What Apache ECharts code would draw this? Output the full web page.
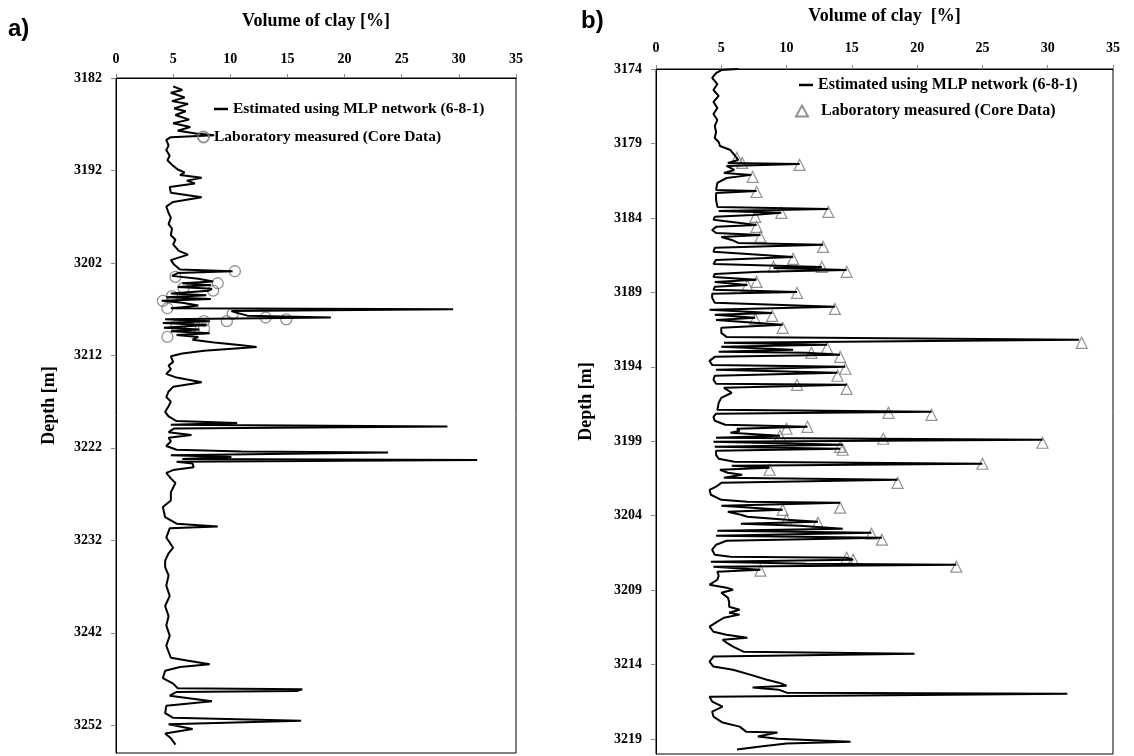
<!DOCTYPE html>
<html>
<head>
<meta charset="utf-8">
<script src="https://cdn.jsdelivr.net/npm/echarts@6/dist/echarts.min.js"></script>
<style>html,body{margin:0;background:#fff}#main{width:1134px;height:756px}</style>
</head>
<body>
<div id="main"></div>
<script>
// ---- panel a) : depth [m] and clay volume [%] along the log ----
var depthA = [
  3182.9,3183.3,3183.6,3184.1,3184.5,3184.8,3185.3,3185.6,3186.0,3186.5,
  3186.9,3187.3,3187.7,3188.0,3188.2,3188.4,3188.7,3189.3,3189.8,3190.4,
  3190.9,3191.5,3191.9,3192.2,3192.5,3192.8,3193.1,3193.4,3193.8,3194.4,
  3194.9,3195.4,3195.9,3196.6,3197.1,3197.8,3198.3,3199.0,3199.5,3200.0,
  3200.7,3201.1,3201.7,3202.2,3202.7,3202.9,3203.1,3203.4,3203.7,3204.0,
  3204.2,3204.4,3204.6,3204.8,3205.0,3205.3,3205.5,3205.7,3205.9,3206.1,
  3206.3,3206.6,3206.8,3206.9,3207.0,3207.2,3207.4,3207.7,3207.9,3208.1,
  3208.3,3208.5,3208.7,3209.0,3209.2,3209.4,3209.6,3209.8,3210.0,3210.3,
  3210.6,3210.9,3211.1,3211.5,3211.8,3212.1,3212.7,3213.1,3213.5,3214.0,
  3214.4,3214.9,3215.4,3215.9,3216.5,3217.0,3217.5,3218.1,3218.6,3219.1,
  3219.3,3219.5,3219.7,3219.9,3220.3,3220.6,3220.9,3221.3,3221.8,3222.2,
  3222.4,3222.5,3222.8,3223.0,3223.2,3223.3,3223.5,3223.7,3224.1,3224.4,
  3224.7,3225.3,3225.8,3226.8,3227.7,3228.4,3229.5,3230.2,3230.5,3230.7,
  3231.7,3232.8,3233.4,3234.2,3234.9,3235.8,3236.9,3238.0,3239.1,3240.2,
  3241.2,3242.3,3243.4,3244.7,3245.0,3245.4,3245.7,3246.1,3246.9,3247.5,
  3248.0,3248.1,3248.3,3248.4,3248.8,3249.4,3249.9,3250.7,3251.2,3251.5,
  3251.9,3252.4,3252.9,3253.4,3254.1
];
var clayA = [
  5.0,5.8,4.8,6.0,4.9,6.3,5.1,6.1,5.2,6.4,
  5.0,6.5,5.4,7.0,8.6,4.8,4.4,4.6,4.4,4.7,
  4.5,5.0,5.4,6.0,5.6,7.5,6.2,6.9,4.7,4.8,
  7.5,5.0,4.4,4.6,4.8,4.6,4.9,4.8,5.2,5.0,
  5.5,6.3,4.8,5.1,5.6,10.2,5.4,4.9,7.2,8.5,
  5.8,8.3,5.4,8.4,8.1,4.8,7.9,4.4,8.3,4.0,
  5.8,7.2,5.8,4.8,29.5,10.1,10.6,11.5,18.8,4.3,
  8.2,4.1,7.9,4.2,7.3,4.8,8.2,5.3,7.2,6.7,
  8.6,11.0,12.3,7.7,5.8,4.8,5.0,4.6,4.8,4.4,
  5.3,7.5,5.0,4.6,4.4,4.8,4.6,4.3,4.6,5.3,
  10.6,4.8,29.0,5.1,4.6,6.6,4.6,4.8,4.4,5.3,
  11.0,23.8,4.8,10.1,5.8,31.6,5.3,6.7,6.8,5.0,
  4.4,4.8,5.2,4.8,4.8,4.1,4.3,5.3,8.9,4.7,
  4.4,5.0,4.6,4.3,4.3,4.6,4.4,4.7,4.3,4.6,
  4.4,4.7,4.4,4.8,6.2,8.2,5.6,4.3,4.1,5.0,
  5.4,16.3,15.8,5.3,4.7,8.4,4.4,4.3,5.0,16.2,
  4.6,6.7,4.3,4.8,5.2
];
var coreDepthA = [3202.9,3203.5,3204.2,3204.7,3205.0,3205.6,3206.1,3206.9,3207.5,3207.9,3208.1,3208.3,3208.3,3208.8,3209.1,3209.1,3210.0];
var coreClayA  = [10.4,5.2,8.9,5.9,8.5,4.9,4.1,4.5,10.2,13.1,14.9,9.7,7.7,5.3,6.5,7.7,4.5];

// ---- panel b) ----
var depthB = [
  3174.00,3174.07,3174.27,3174.60,3175.01,3175.41,3175.81,3176.21,3176.62,3177.02,
  3177.42,3177.83,3178.23,3178.63,3178.90,3179.17,3179.44,3179.77,3180.11,3180.31,
  3180.38,3180.51,3180.78,3180.98,3181.11,3181.32,3181.65,3182.12,3182.19,3182.32,
  3182.79,3183.26,3183.40,3183.53,3183.66,3183.80,3183.93,3184.13,3184.47,3184.60,
  3184.81,3185.01,3185.14,3185.28,3185.48,3185.68,3185.81,3186.01,3186.28,3186.62,
  3186.82,3187.09,3187.29,3187.36,3187.49,3187.62,3187.76,3187.96,3188.16,3188.30,
  3188.50,3188.63,3188.83,3188.97,3189.10,3189.37,3189.70,3189.97,3190.17,3190.38,
  3190.51,3190.71,3190.85,3190.98,3191.18,3191.38,3191.72,3191.99,3192.19,3192.39,
  3192.52,3192.66,3192.86,3192.99,3193.06,3193.19,3193.33,3193.60,3193.87,3194.00,
  3194.20,3194.40,3194.60,3194.87,3195.14,3195.21,3195.41,3195.54,3195.74,3196.08,
  3196.42,3196.89,3197.02,3197.15,3197.36,3197.62,3197.89,3198.03,3198.16,3198.30,
  3198.43,3198.63,3198.77,3198.90,3199.03,3199.23,3199.37,3199.50,3199.64,3199.91,
  3200.17,3200.38,3200.51,3200.64,3200.78,3200.91,3201.11,3201.25,3201.45,3201.58,
  3201.79,3202.05,3202.26,3202.59,3202.93,3203.06,3203.13,3203.33,3203.60,3203.73,
  3203.93,3204.07,3204.27,3204.40,3204.54,3204.67,3204.87,3205.01,3205.14,3205.34,
  3205.48,3205.68,3205.95,3206.28,3206.62,3206.75,3206.82,3206.95,3207.09,3207.22,
  3207.29,3207.42,3207.62,3207.76,3208.03,3208.30,3208.63,3208.83,3208.97,3209.17,
  3209.50,3209.77,3210.11,3210.31,3210.51,3210.64,3210.85,3211.11,3211.45,3211.79,
  3211.99,3212.19,3212.32,3212.52,3212.79,3213.13,3213.26,3213.46,3213.80,3214.13,
  3214.34,3214.67,3215.01,3215.21,3215.41,3215.54,3215.68,3215.88,3215.95,3216.15,
  3216.48,3216.82,3217.15,3217.49,3217.89,3218.16,3218.50,3218.56,3218.83,3218.97,
  3219.17,3219.30,3219.50,3219.70
];
var clayB = [
  6.3,5.0,4.6,4.3,4.7,4.4,4.8,4.4,4.7,4.4,
  4.7,4.5,4.6,4.5,4.8,4.9,5.7,6.0,6.3,5.5,
  11.0,5.4,6.0,5.2,7.3,5.4,4.7,4.6,7.7,4.6,
  4.6,4.7,13.2,4.8,9.6,7.4,4.5,4.4,7.7,4.6,
  4.3,4.6,8.0,5.0,5.8,6.3,12.8,4.5,4.4,10.5,
  4.6,4.4,12.7,9.0,14.6,8.0,4.5,4.4,7.7,4.5,
  7.0,4.5,4.4,10.8,4.3,4.3,4.5,13.7,4.1,8.9,
  4.5,7.6,4.6,4.5,9.7,5.0,5.0,5.4,32.4,5.2,
  13.1,5.0,10.5,4.8,11.5,14.1,4.5,4.1,4.3,14.5,
  4.6,13.9,4.5,4.4,4.6,14.6,5.2,5.3,5.8,5.0,
  4.8,4.7,21.1,4.6,4.4,4.5,5.3,11.6,6.2,6.4,
  5.7,9.5,4.6,29.6,4.4,14.3,4.5,14.1,4.6,4.6,
  4.8,6.0,25.0,5.8,8.7,4.9,5.5,6.6,5.2,18.5,
  5.0,4.6,4.1,4.2,5.0,7.0,14.1,5.0,9.7,5.5,
  6.5,7.0,10.0,12.4,6.5,11.0,14.3,4.7,16.5,4.6,
  17.3,5.4,4.6,4.3,4.5,5.7,14.6,15.1,4.2,11.5,
  23.0,4.4,8.0,4.7,4.8,4.7,4.1,5.4,5.9,5.0,
  5.5,5.6,5.6,6.4,5.6,6.4,5.2,4.7,4.1,4.4,
  5.4,7.0,5.1,5.4,5.9,6.7,19.8,4.4,4.1,4.4,
  5.9,7.2,8.5,9.4,10.0,7.4,9.4,10.0,31.5,4.1,
  4.3,5.1,4.3,4.4,5.1,6.4,6.9,9.3,7.8,9.3,
  14.9,10.0,8.0,6.2
];
var coreDepthB = [
  3179.97,3180.31,3180.44,3181.25,3182.26,3183.60,3183.66,3183.93,3184.60,3185.28,
  3185.95,3186.75,3187.29,3187.29,3187.62,3188.30,3188.56,3189.03,3190.11,3190.58,
  3190.78,3191.38,3192.39,3192.72,3193.06,3193.33,3194.13,3194.60,3195.21,3195.48,
  3197.09,3197.22,3198.03,3198.16,3198.63,3198.83,3199.10,3199.37,3199.57,3200.51,
  3200.91,3201.79,3203.46,3203.60,3204.27,3204.47,3205.21,3205.61,3206.82,3206.95,
  3207.42,3207.69
];
var coreClayB = [
  6.2,6.6,11.0,7.4,7.7,13.2,9.6,7.6,7.7,8.0,
  12.8,10.5,9.0,12.7,14.6,7.7,7.0,10.8,13.7,8.9,
  7.6,9.7,32.6,13.1,11.9,14.1,14.5,13.9,10.8,14.6,
  17.8,21.1,11.6,10.0,9.5,17.4,29.6,14.1,14.3,25.0,
  8.7,18.5,14.1,9.7,10.0,12.4,16.5,17.3,14.6,15.1,
  23.0,8.0
];

var nameLine = 'Estimated using MLP network (6-8-1)';
var nameCore = 'Laboratory measured (Core Data)';

function pairs(xs, ys) {
  return xs.map(function (v, i) { return [v, ys[i]]; });
}

var serif = '"Liberation Serif", "Times New Roman", serif';
var boldText = { fontFamily: serif, fontWeight: 'bold', color: '#000' };

function clayAxis(idx, gap, labelMargin) {
  return {
    gridIndex: idx, type: 'value', position: 'top',
    min: 0, max: 35, interval: 5,
    name: idx === 0 ? 'Volume of clay [%]' : 'Volume of clay  [%]',
    nameLocation: 'middle', nameGap: gap,
    nameTextStyle: Object.assign({ fontSize: 18 }, boldText),
    axisLine: { lineStyle: { color: '#000', width: 1 } },
    axisTick: { show: true, length: 4, lineStyle: { color: '#888' } },
    axisLabel: Object.assign({ fontSize: 14, margin: labelMargin }, boldText),
    splitLine: { show: false }
  };
}

function depthAxis(idx, min, max, step, gap) {
  return {
    gridIndex: idx, type: 'value', inverse: true,
    min: min, max: max, interval: step,
    name: 'Depth [m]', nameLocation: 'middle', nameGap: gap, nameRotate: 90,
    nameTextStyle: Object.assign({ fontSize: 18, padding: [0, 0, 0, 20] }, boldText),
    axisLine: { lineStyle: { color: '#000', width: 1 } },
    axisTick: { show: true, length: 5, lineStyle: { color: '#888' } },
    axisLabel: Object.assign({
      fontSize: 14, margin: 14, showMaxLabel: false,
      formatter: function (v) { return String(v); }
    }, boldText),
    splitLine: { show: false }
  };
}

var chart = echarts.init(document.getElementById('main'));

var option = {
  animation: false,
  backgroundColor: '#fff',
  graphic: [
    { type: 'text', left: 8, top: 17, style: { text: 'a)', font: 'bold 24px "Liberation Sans", Arial, sans-serif', fill: '#000' } },
    { type: 'text', left: 581, top: 9, style: { text: 'b)', font: 'bold 24px "Liberation Sans", Arial, sans-serif', fill: '#000' } }
  ],
  grid: [
    { left: 116, top: 78, width: 400, height: 675, show: true, borderColor: '#000', borderWidth: 1 },
    { left: 656, top: 69, width: 457, height: 685, show: true, borderColor: '#000', borderWidth: 1 }
  ],
  xAxis: [clayAxis(0, 48, 12), clayAxis(1, 44, 14)],
  yAxis: [depthAxis(0, 3182, 3255, 10, 58), depthAxis(1, 3174, 3220, 5, 61)],
  legend: [
    { data: [{ name: nameLine, icon: 'rect' }], left: 209, top: 96, itemWidth: 14, itemHeight: 2.5, itemGap: 4,
      textStyle: Object.assign({ fontSize: 15.5 }, boldText) },
    { data: [nameCore], left: 192, top: 124, itemWidth: 11, itemHeight: 11,
      textStyle: Object.assign({ fontSize: 15.5 }, boldText) },
    { data: [{ name: nameLine + ' ', icon: 'rect' }], left: 794, top: 72, itemWidth: 14, itemHeight: 2.5,
      formatter: function (n) { return n.trim(); }, textStyle: Object.assign({ fontSize: 16 }, boldText) },
    { data: [nameCore + ' '], left: 790, top: 98, itemWidth: 12, itemHeight: 11,
      formatter: function (n) { return '  ' + n.trim(); }, textStyle: Object.assign({ fontSize: 16 }, boldText) }
  ],
  series: [
    {
      name: nameLine, type: 'line', xAxisIndex: 0, yAxisIndex: 0,
      data: pairs(clayA, depthA), symbol: 'none', clip: true,
      lineStyle: { color: '#000', width: 2 }, itemStyle: { color: '#000' }
    },
    {
      name: nameCore, type: 'scatter', xAxisIndex: 0, yAxisIndex: 0,
      data: pairs(coreClayA, coreDepthA), symbol: 'circle', symbolSize: 11,
      itemStyle: { color: 'rgba(255,255,255,0)', borderColor: '#777', borderWidth: 1.3 }
    },
    {
      name: nameLine + ' ', type: 'line', xAxisIndex: 1, yAxisIndex: 1,
      data: pairs(clayB, depthB), symbol: 'none', clip: true,
      lineStyle: { color: '#000', width: 2 }, itemStyle: { color: '#000' }
    },
    {
      name: nameCore + ' ', type: 'scatter', xAxisIndex: 1, yAxisIndex: 1,
      data: pairs(coreClayB, coreDepthB), symbol: 'triangle', symbolSize: 11,
      itemStyle: { color: 'rgba(255,255,255,0)', borderColor: '#777', borderWidth: 1.2 }
    }
  ]
};

chart.setOption(option);
</script>
</body>
</html>
